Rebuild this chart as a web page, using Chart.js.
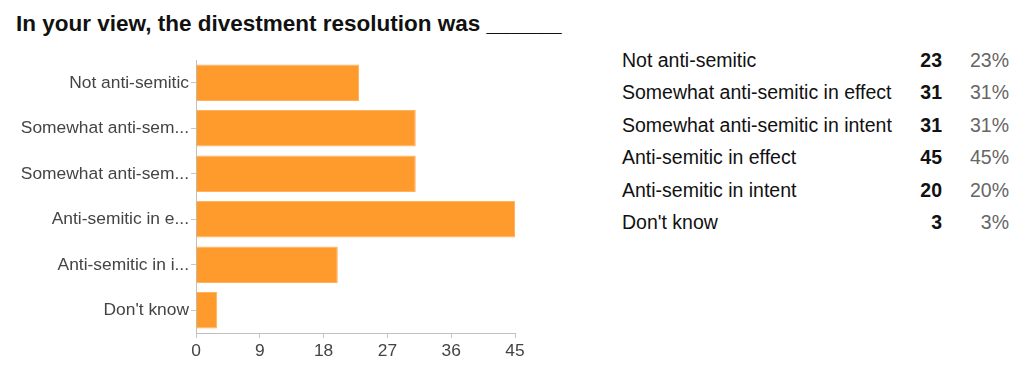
<!DOCTYPE html>
<html>
<head>
<meta charset="utf-8">
<script src="https://cdn.jsdelivr.net/npm/chart.js@4.4.1/dist/chart.umd.min.js"></script>
<style>
  html, body { margin: 0; padding: 0; background: #fff; }
  body { width: 1024px; height: 379px; position: relative; overflow: hidden; font-family: "Liberation Sans", Arial, Helvetica, sans-serif; }
  #title { position: absolute; left: 16px; top: 13px; font-size: 22.5px; line-height: 22.5px; font-weight: bold; color: #111; white-space: nowrap; }
  #wrap { position: absolute; left: 0; top: 0; width: 540px; height: 379px; }
  #tbl { position: absolute; left: 622px; top: 44px; border-collapse: collapse; font-size: 19.5px; color: #111; table-layout: fixed; }
  #tbl td { padding: 0; height: 32.5px; white-space: nowrap; }
  #tbl td.l { width: 270px; }
  #tbl td.n { text-align: right; font-weight: bold; width: 50px; }
  #tbl td.p { text-align: right; color: #666; width: 67px; }
</style>
</head>
<body>
<div id="title">In your view, the divestment resolution was ______</div>
<div id="wrap"><canvas id="c"></canvas></div>
<table id="tbl"></table>
<script>
const categories = ["Not anti-semitic", "Somewhat anti-semitic in effect", "Somewhat anti-semitic in intent", "Anti-semitic in effect", "Anti-semitic in intent", "Don't know"];
const tickLabels = ["Not anti-semitic", "Somewhat anti-sem...", "Somewhat anti-sem...", "Anti-semitic in e...", "Anti-semitic in i...", "Don't know"];
const counts = [23, 31, 31, 45, 20, 3];
const percents = ["23%", "31%", "31%", "45%", "20%", "3%"];
const xTicks = [0, 9, 18, 27, 36, 45];

const tbl = document.getElementById('tbl');
categories.forEach((c, i) => {
  const tr = document.createElement('tr');
  const a = document.createElement('td'); a.className = 'l'; a.textContent = c;
  const b = document.createElement('td'); b.className = 'n'; b.textContent = counts[i];
  const d = document.createElement('td'); d.className = 'p'; d.textContent = percents[i];
  tr.append(a, b, d); tbl.appendChild(tr);
});

const font = { family: '"Liberation Sans", Arial, Helvetica, sans-serif', size: 17.4 };
new Chart(document.getElementById('c'), {
  type: 'bar',
  data: {
    labels: tickLabels,
    datasets: [{
      data: counts,
      backgroundColor: '#ff9b2c',
      borderColor: '#ffb25e',
      borderWidth: 1,
      categoryPercentage: 0.8,
      barPercentage: 1.0
    }]
  },
  options: {
    indexAxis: 'y',
    responsive: true,
    maintainAspectRatio: false,
    animation: false,
    layout: { padding: { top: 60, right: 25, left: 0, bottom: 0 } },
    plugins: { legend: { display: false }, tooltip: { enabled: false } },
    scales: {
      x: {
        min: 0, max: 45,
        afterBuildTicks: s => { s.ticks = xTicks.map(v => ({ value: v })); },
        afterFit: s => { s.height = 46; },
        grid: { drawOnChartArea: false, drawTicks: true, tickLength: 5, color: '#c8c8c8' },
        border: { color: '#c0c0c0' },
        ticks: { color: '#444', font: font, padding: 3 }
      },
      y: {
        afterFit: s => { s.width = 196; },
        grid: { offset: false, drawOnChartArea: false, drawTicks: true, tickLength: 5, color: '#c8c8c8' },
        border: { color: '#c0c0c0' },
        ticks: { color: '#444', font: font, padding: 2 }
      }
    }
  }
});
</script>
</body>
</html>
